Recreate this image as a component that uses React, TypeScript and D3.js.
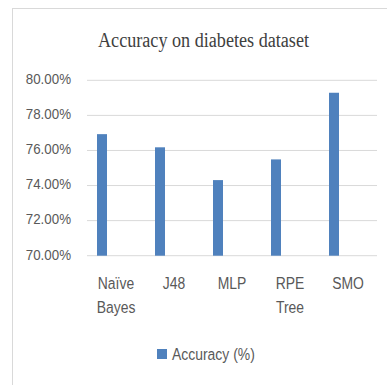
import React from "react";
import * as d3 from "d3";

const categories: string[][] = [["Naïve", "Bayes"], ["J48"], ["MLP"], ["RPE", "Tree"], ["SMO"]];
const values: number[] = [0.7693, 0.7618, 0.7431, 0.7549, 0.7929];
const yTicks: number[] = [0.7, 0.72, 0.74, 0.76, 0.78, 0.8];
const title = "Accuracy on diabetes dataset";
const seriesName = "Accuracy (%)";

export default function App() {
  const W = 387, H = 385;
  const keys = categories.map((c) => c.join(" "));
  const x = d3.scaleBand<string>().domain(keys).range([87, 377]).padding(0);
  const y = d3.scaleLinear().domain([0.7, 0.8]).range([255.7, 80.3]);
  const fmt = d3.format(".2%");
  const barColor = "#4f81bd";
  const textColor = "#595959";
  const sans = "'Liberation Sans', Arial, sans-serif";
  return (
    <svg width={W} height={H} style={{ position: "absolute", left: 0, top: 0, background: "#fff" }}>
      <rect x={12.5} y={8.5} width={W} height={H} fill="#fff" stroke="#d9d9d9" strokeWidth={1} />
      <text x={203.5} y={46.5} textAnchor="middle" fontFamily="'Liberation Serif', 'Times New Roman', serif" fontSize={20} fill="#404040" textLength={211} lengthAdjust="spacingAndGlyphs">{title}</text>
      {yTicks.map((t) => (
        <g key={t}>
          <line x1={87} x2={377} y1={y(t)} y2={y(t)} stroke="#d9d9d9" strokeWidth={1} />
          <g transform={`translate(71,${y(t) + 3.8}) scale(0.92,1)`}>
            <text x={0} y={0} textAnchor="end" fontFamily={sans} fontSize={14.5} fill={textColor}>{fmt(t)}</text>
          </g>
        </g>
      ))}
      {keys.map((k, i) => (
        <rect key={k} x={(x(k) as number) + 10} y={y(values[i])} width={10} height={y(0.7) - y(values[i])} fill={barColor} />
      ))}
      {categories.map((c, i) => (
        <g key={keys[i]} transform={`translate(${(x(keys[i]) as number) + x.bandwidth() / 2},0) scale(0.82,1)`}>
          {c.map((line, j) => (
            <text key={j} x={0} y={289.5 + j * 23.5} textAnchor="middle" fontFamily={sans} fontSize={17} fill={textColor}>{line}</text>
          ))}
        </g>
      ))}
      <rect x={157} y={349} width={10} height={10} fill={barColor} />
      <g transform="translate(172,360) scale(0.82,1)">
        <text x={0} y={0} fontFamily={sans} fontSize={17} fill={textColor}>{seriesName}</text>
      </g>
    </svg>
  );
}
